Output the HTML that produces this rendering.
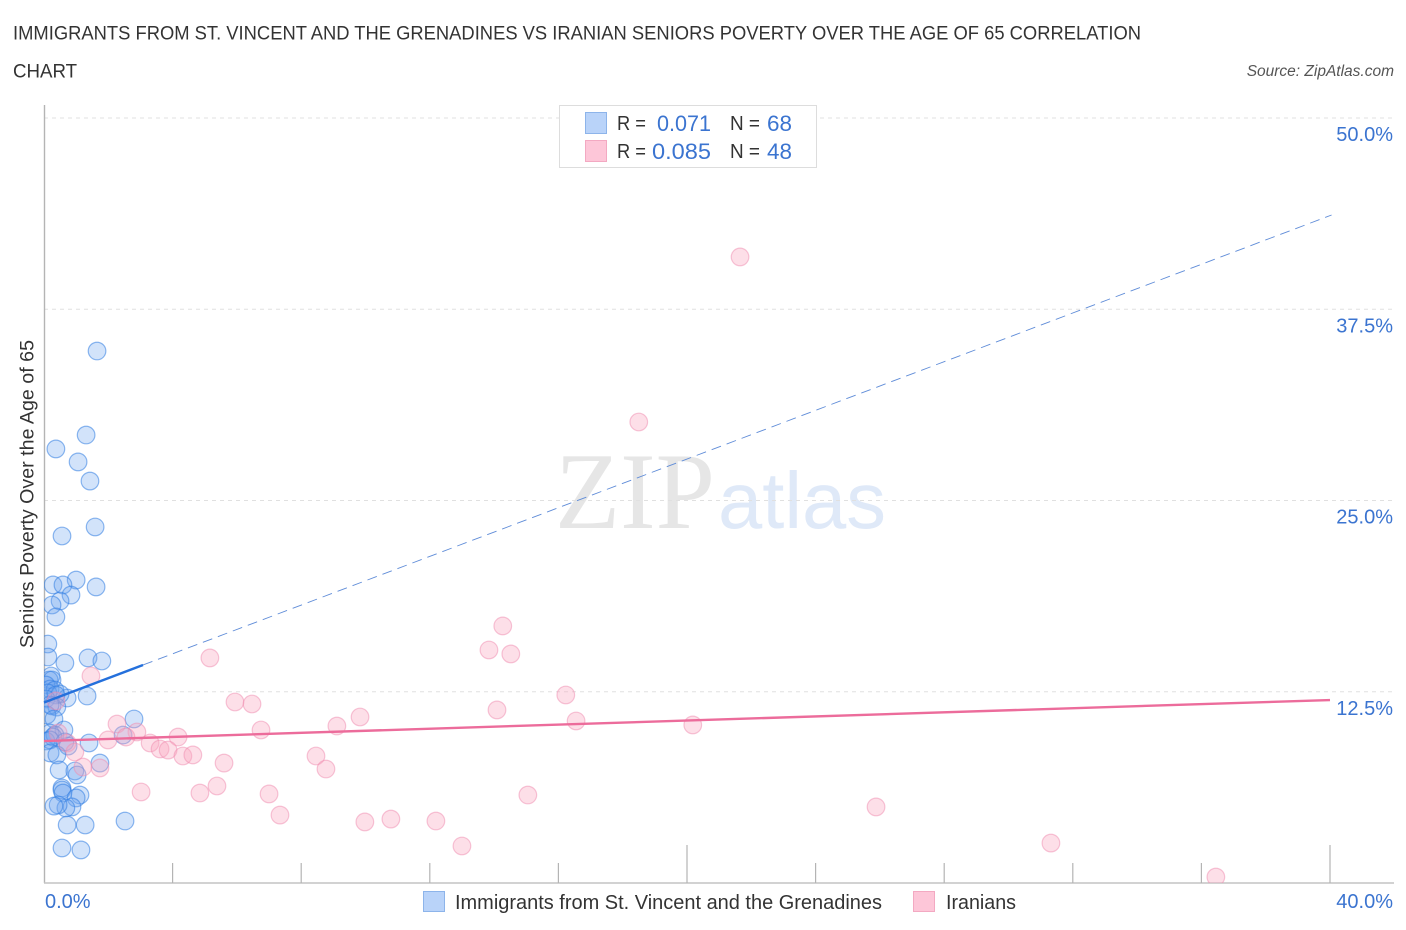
<!DOCTYPE html>
<html lang="en">
<head>
<meta charset="utf-8">
<title>Immigrants from St. Vincent and the Grenadines vs Iranian Seniors Poverty Correlation Chart</title>
<style>
html,body{margin:0;padding:0;background:#fff;width:1406px;height:930px;overflow:hidden}
svg{display:block;font-family:"Liberation Sans",sans-serif}
</style>
</head>
<body>
<svg id="chart" width="1406" height="930" viewBox="0 0 1406 930" xmlns="http://www.w3.org/2000/svg">
  <defs>
    <clipPath id="plot-clip"><rect x="44" y="100" width="1360" height="783"/></clipPath>
  </defs>
  <text x="13" y="39.5" font-size="19.5" fill="#333" textLength="1128" lengthAdjust="spacingAndGlyphs">IMMIGRANTS FROM ST. VINCENT AND THE GRENADINES VS IRANIAN SENIORS POVERTY OVER THE AGE OF 65 CORRELATION</text>
  <text x="13" y="77.5" font-size="19.5" fill="#333" textLength="64" lengthAdjust="spacingAndGlyphs">CHART</text>
  <text x="1394" y="76" font-size="15.5" font-style="italic" fill="#555" text-anchor="end">Source: ZipAtlas.com</text>

  <g id="watermark">
    <text x="555" y="528" font-family="'Liberation Serif',serif" font-size="109" fill="#e6e6e6" textLength="160" lengthAdjust="spacingAndGlyphs">ZIP</text>
    <text x="718" y="528" font-size="80" fill="#dfe9f8" textLength="168" lengthAdjust="spacingAndGlyphs">atlas</text>
  </g>

  <g id="grid"></g>
  <g id="axes"></g>
  <g id="blue-points" clip-path="url(#plot-clip)"></g>
  <g id="pink-points" clip-path="url(#plot-clip)"></g>
  <g id="trends"></g>

  <text transform="translate(33.5,494) rotate(-90)" font-size="19.5" fill="#333" text-anchor="middle" textLength="308" lengthAdjust="spacingAndGlyphs">Seniors Poverty Over the Age of 65</text>

  <g>
    <rect x="559.5" y="105.5" width="257" height="62" fill="#fff" stroke="#ddd" stroke-width="1"/>
    <rect x="585.5" y="112.5" width="21" height="21" fill="#b9d3f9" stroke="#8db4ea"/>
    <rect x="585.5" y="140.5" width="21" height="21" fill="#fdc6d8" stroke="#f3a9c2"/>
    <text x="617" y="130" font-size="20" fill="#333" textLength="29" lengthAdjust="spacingAndGlyphs">R =</text>
    <text x="657" y="131" font-size="22" fill="#3b74d0" textLength="54" lengthAdjust="spacingAndGlyphs">0.071</text>
    <text x="730" y="130" font-size="20" fill="#333" textLength="30" lengthAdjust="spacingAndGlyphs">N =</text>
    <text x="767" y="131" font-size="22" fill="#3b74d0" textLength="25" lengthAdjust="spacingAndGlyphs">68</text>
    <text x="617" y="158" font-size="20" fill="#333" textLength="29" lengthAdjust="spacingAndGlyphs">R =</text>
    <text x="652" y="159" font-size="22" fill="#3b74d0" textLength="59" lengthAdjust="spacingAndGlyphs">0.085</text>
    <text x="730" y="158" font-size="20" fill="#333" textLength="30" lengthAdjust="spacingAndGlyphs">N =</text>
    <text x="767" y="159" font-size="22" fill="#3b74d0" textLength="25" lengthAdjust="spacingAndGlyphs">48</text>
  </g>

  <g>
    <rect x="423.5" y="891.5" width="21" height="20" fill="#b9d3f9" stroke="#8db4ea"/>
    <text x="455" y="909" font-size="20" fill="#333" textLength="427" lengthAdjust="spacingAndGlyphs">Immigrants from St. Vincent and the Grenadines</text>
    <rect x="913.5" y="891.5" width="21" height="20" fill="#fdc6d8" stroke="#f3a9c2"/>
    <text x="946" y="909" font-size="20" fill="#333" textLength="70" lengthAdjust="spacingAndGlyphs">Iranians</text>
  </g>
</svg>
<script>
const yTickValues = [12.5, 25, 37.5, 50];
const yTickLabels = ['12.5%', '25.0%', '37.5%', '50.0%'];
const xTickValues = [4, 8, 12, 16, 20, 24, 28, 32, 36, 40];
const xMajorTicks = [20, 40];
const xEndValues = [0, 40];
const xEndLabels = ['0.0%', '40.0%'];

const blueX = [1.65,1.31,.37,1.06,1.43,1.59,.56,1.0,.28,.59,1.62,.84,.5,.25,.37,.12,.12,.65,1.37,1.8,.22,.16,.25,.06,.19,.34,.12,1.34,.72,.5,.37,.06,.25,.4,.19,.09,.31,2.8,.62,.19,.34,2.46,1.4,.06,.28,.19,.65,.75,.19,.4,1.74,.47,.96,1.03,.56,.56,.59,1.12,1.0,.87,.68,.44,.31,.72,1.28,2.52,.56,1.15];
const blueY = [34.77,29.28,28.37,27.52,26.27,23.27,22.68,19.8,19.48,19.48,19.35,18.82,18.43,18.17,17.39,15.62,14.77,14.38,14.71,14.51,13.53,13.27,13.27,12.94,12.68,12.61,12.42,12.22,12.09,12.35,12.29,12.03,11.57,11.5,11.63,10.98,10.72,10.72,10.0,9.8,9.67,9.67,9.15,9.28,9.54,9.35,9.22,8.95,8.5,8.37,7.84,7.39,7.32,7.06,6.21,6.08,5.88,5.75,5.56,4.97,4.9,5.1,5.03,3.79,3.79,4.05,2.29,2.16];
const pinkX = [21.65,18.5,14.27,13.84,14.52,5.16,1.46,16.23,5.94,6.47,14.09,9.83,16.55,20.18,9.11,6.75,2.27,2.89,2.55,4.17,1.99,3.3,3.61,3.86,4.32,4.63,8.46,5.6,8.77,1.21,1.74,5.38,3.02,4.85,7.0,15.05,7.34,25.88,10.79,9.98,12.19,13.0,31.32,36.45,.37,.44,.72,.96];
const pinkY = [40.92,30.13,16.8,15.23,14.97,14.71,13.53,12.29,11.83,11.7,11.31,10.85,10.59,10.33,10.26,10.0,10.39,9.87,9.54,9.54,9.35,9.15,8.76,8.69,8.3,8.37,8.3,7.84,7.45,7.58,7.52,6.34,5.95,5.88,5.82,5.75,4.44,4.97,4.18,3.99,4.05,2.42,2.61,.39,11.9,9.8,9.15,8.56];

const blueTrendX = [0, 3.08, 40.05];
const blueTrendY = [11.8, 14.25, 43.66];
const pinkTrendX = [0, 40];
const pinkTrendY = [9.28, 11.96];

const NS = 'http://www.w3.org/2000/svg';
const xScale = v => 44 + v * 32.15;
const yScale = v => 883 - v * 15.3;

function make(parentId, tag, attrs, text) {
  const el = document.createElementNS(NS, tag);
  for (const k in attrs) el.setAttribute(k, attrs[k]);
  if (text !== undefined) el.textContent = text;
  document.getElementById(parentId).appendChild(el);
  return el;
}

yTickValues.forEach((v, i) => {
  const line = make('grid', 'line', {x1: 44, x2: 1393, y1: yScale(v), y2: yScale(v), stroke: '#e0e0e0', 'stroke-width': 1, 'stroke-dasharray': '4 4'});
  
  
  const label = make('axes', 'text', {x: 1393, y: yScale(v) + 23, 'font-size': 20, fill: '#3b74d0', 'text-anchor': 'end'}, yTickLabels[i]);
  
  
});

const leftAxis = make('axes', 'line', {x1: 44.5, x2: 44.5, y1: 105, y2: 883, stroke: '#b4b4b4', 'stroke-width': 1.4});


const bottomAxis = make('axes', 'line', {x1: 44, x2: 1394, y1: yScale(0), y2: yScale(0), stroke: '#c4c4c4', 'stroke-width': 1.6});



xTickValues.forEach(v => {
  const top = xMajorTicks.includes(v) ? 845 : 863;
  const tick = make('axes', 'line', {x1: xScale(v), x2: xScale(v), y1: top, y2: 883, stroke: '#b4b4b4', 'stroke-width': 1.2});
  
  
});

xEndValues.forEach((v, i) => {
  const anchored = i === 0 ? {x: xScale(v) + 1, 'text-anchor': 'start'} : {x: 1393, 'text-anchor': 'end'};
  const label = make('axes', 'text', Object.assign({y: 908, 'font-size': 20, fill: '#3b74d0'}, anchored), xEndLabels[i]);
  
  
});

blueX.forEach((v, i) => {
  const c = make('blue-points', 'circle', {cx: xScale(v), cy: yScale(blueY[i]), r: 8.8, fill: 'rgba(105,162,240,0.3)', stroke: 'rgba(50,125,225,0.55)', 'stroke-width': 1.2});
  
  
});

pinkX.forEach((v, i) => {
  const c = make('pink-points', 'circle', {cx: xScale(v), cy: yScale(pinkY[i]), r: 8.8, fill: 'rgba(249,165,192,0.36)', stroke: 'rgba(240,140,175,0.5)', 'stroke-width': 1.2});
  
  
});

const blueSolid = make('trends', 'line', {x1: xScale(blueTrendX[0]), y1: yScale(blueTrendY[0]), x2: xScale(blueTrendX[1]), y2: yScale(blueTrendY[1]), stroke: '#2470dc', 'stroke-width': 2.4});


const blueDash = make('trends', 'line', {x1: xScale(blueTrendX[1]), y1: yScale(blueTrendY[1]), x2: xScale(blueTrendX[2]), y2: yScale(blueTrendY[2]), stroke: '#5f8cd8', 'stroke-width': 0.9, 'stroke-dasharray': '10 6'});


const pinkLine = make('trends', 'line', {x1: xScale(pinkTrendX[0]), y1: yScale(pinkTrendY[0]), x2: xScale(pinkTrendX[1]), y2: yScale(pinkTrendY[1]), stroke: '#ec6c9b', 'stroke-width': 2.4});


</script>
</body>
</html>
